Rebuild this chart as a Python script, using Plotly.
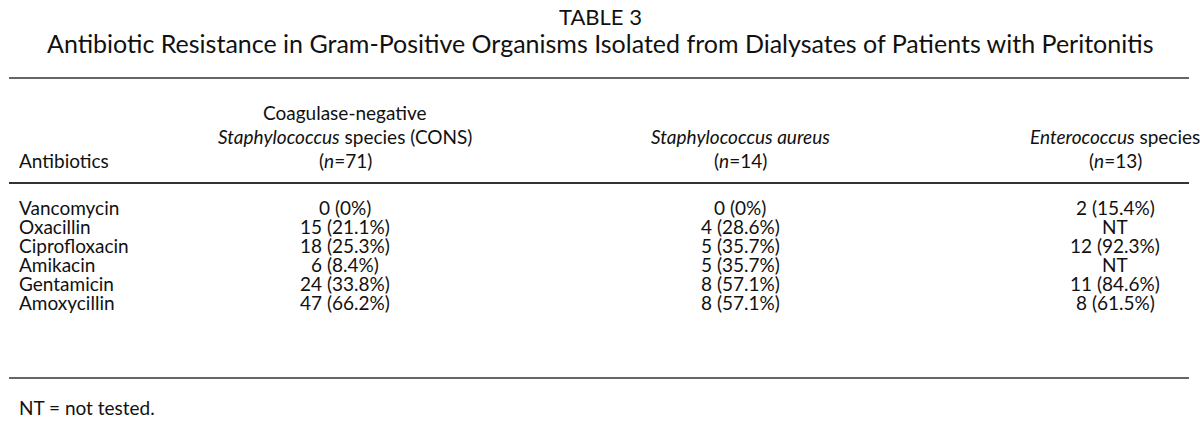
import plotly.graph_objects as go

title = "TABLE 3"
subtitle = "Antibiotic Resistance in Gram-Positive Organisms Isolated from Dialysates of Patients with Peritonitis"
row_header = "Antibiotics"
col_headers = [
    ["Coagulase-negative", "<i>Staphylococcus</i> species (CONS)", "(<i>n</i>=71)"],
    ["<i>Staphylococcus aureus</i>", "(<i>n</i>=14)"],
    ["<i>Enterococcus</i> species", "(<i>n</i>=13)"],
]
antibiotics = ["Vancomycin", "Oxacillin", "Ciprofloxacin", "Amikacin", "Gentamicin", "Amoxycillin"]
cons = ["0 (0%)", "15 (21.1%)", "18 (25.3%)", "6 (8.4%)", "24 (33.8%)", "47 (66.2%)"]
saureus = ["0 (0%)", "4 (28.6%)", "5 (35.7%)", "5 (35.7%)", "8 (57.1%)", "8 (57.1%)"]
entero = ["2 (15.4%)", "NT", "12 (92.3%)", "NT", "11 (84.6%)", "8 (61.5%)"]
footnote = "NT = not tested."

FONT = "Lato, sans-serif"
COLOR = "#111111"
SIZE = 19

col_x = [345, 740, 1115]
row_y0, row_step = 207, 19
head_last_y, head_step = 160, 24

fig = go.Figure()
fig.add_trace(go.Scatter(x=[0, 1200], y=[0, 431], mode="markers",
                         marker=dict(opacity=0), hoverinfo="skip", showlegend=False))

ann = []
def add(text, x, y, anchor="center", size=SIZE):
    ann.append(dict(text=text, x=x, y=y, xref="x", yref="y", showarrow=False,
                    xanchor=anchor, yanchor="middle",
                    font=dict(family=FONT, size=size, color=COLOR)))

add(title, 600, 16, size=22)
add(subtitle, 600, 43, size=25)
add(row_header, 17, head_last_y, anchor="left")
for cx, lines in zip(col_x, col_headers):
    n = len(lines)
    for k, line in enumerate(lines):
        add(line, cx, head_last_y - (n - 1 - k) * head_step)

for i, name in enumerate(antibiotics):
    y = row_y0 + i * row_step
    add(name, 17, y, anchor="left")
    for cx, col in zip(col_x, [cons, saureus, entero]):
        add(col[i], cx, y)
add(footnote, 17, 407, anchor="left")

shapes = []
for yy, w in [(78, 1.5), (183, 2), (378, 1.5)]:
    shapes.append(dict(type="line", xref="x", yref="y", x0=9, x1=1189, y0=yy, y1=yy,
                       line=dict(color="#333333", width=w)))

fig.update_layout(
    width=1200, height=431, margin=dict(l=0, r=0, t=0, b=0),
    paper_bgcolor="white", plot_bgcolor="white",
    xaxis=dict(range=[0, 1200], visible=False, fixedrange=True),
    yaxis=dict(range=[431, 0], visible=False, fixedrange=True),
    annotations=ann, shapes=shapes,
)
fig.write_html("out.html", config={"displayModeBar": False},
               post_script="document.body.style.margin='0';document.body.style.overflow='hidden';")
